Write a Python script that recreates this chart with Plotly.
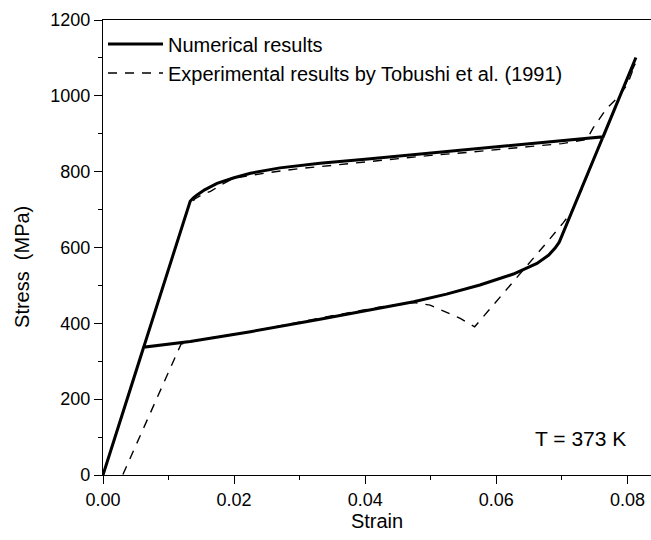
import plotly.graph_objects as go

# Numerical results (solid): loading then unloading
num_strain = [0.0, 0.0133, 0.0138, 0.0143, 0.0155, 0.0174, 0.0200, 0.0225, 0.0270, 0.0331,
              0.0400, 0.0450, 0.0500, 0.0550, 0.0600, 0.0650, 0.0700, 0.0763, 0.0813,
              0.0700, 0.0696, 0.0690, 0.0680, 0.0662, 0.0626, 0.0575, 0.0524, 0.0474,
              0.0423, 0.0331, 0.0225, 0.0133, 0.0062, 0.0]
num_stress = [0, 722, 731, 738, 752, 769, 784, 796, 810, 822,
              833, 841, 849, 857, 865, 873, 881, 892, 1101,
              628, 614, 599, 580, 558, 530, 501, 477, 457,
              440, 411, 378, 352, 337, 0]

# Experimental results by Tobushi et al. (1991) (dashed)
exp_strain = [0.0, 0.0122, 0.0130, 0.0140, 0.0152, 0.0164, 0.0180, 0.0200, 0.0250, 0.0300,
              0.0350, 0.0400, 0.0450, 0.0500, 0.0550, 0.0600, 0.0650, 0.0700, 0.0738,
              0.0748, 0.0768, 0.0785, 0.0800, 0.0812, 0.0790, 0.0760, 0.0730, 0.0715,
              0.0702, 0.0674, 0.0626, 0.0590, 0.0567, 0.0545, 0.0499, 0.0474, 0.0423,
              0.0350, 0.0300, 0.0225, 0.0150, 0.0125, 0.0119, 0.0030]
exp_stress = [0, 665, 705, 728, 740, 748, 765, 783, 797, 808,
              817, 826, 834, 843, 850, 857, 866, 874, 885,
              916, 966, 995, 1030, 1085, 1005, 880, 752, 695,
              665, 607, 510, 435, 391, 413, 448, 455, 443,
              420, 404, 378, 358, 348, 345, 0]

x_ticks = [0.00, 0.02, 0.04, 0.06, 0.08]
y_ticks = [0, 200, 400, 600, 800, 1000, 1200]

FONT = "Liberation Sans, Arial, sans-serif"
FS = 18

fig = go.Figure()
fig.add_trace(go.Scatter(x=num_strain, y=num_stress, mode="lines",
                         name="Numerical results",
                         line=dict(color="black", width=3)))
fig.add_trace(go.Scatter(x=exp_strain, y=exp_stress, mode="lines",
                         name="Experimental results by Tobushi et al. (1991)",
                         line=dict(color="black", width=1.4, dash="9px,8px")))

fig.update_layout(
    width=651, height=540,
    margin=dict(l=103, r=0, t=20, b=65),
    plot_bgcolor="white", paper_bgcolor="white",
    font=dict(family=FONT, size=FS, color="black"),
    showlegend=True,
    legend=dict(x=0.0, y=0.99, xanchor="left", yanchor="top",
                bgcolor="rgba(0,0,0,0)", itemwidth=55,
                font=dict(size=20, family=FONT)),
    xaxis=dict(range=[0, 0.0836], tickvals=x_ticks, ticktext=[f"{v:.2f}" for v in x_ticks],
               showline=True, linecolor="black", linewidth=1.3, mirror=True,
               ticks="outside", ticklen=8, tickwidth=1.3, tickcolor="black",
               minor=dict(dtick=0.01, ticks="outside", ticklen=4, tickwidth=1.3, tickcolor="black"),
               showgrid=False, zeroline=False,
               title=dict(text="Strain", font=dict(size=20), standoff=4)),
    yaxis=dict(range=[0, 1200], tickvals=y_ticks,
               showline=True, linecolor="black", linewidth=1.3,
               ticks="outside", ticklen=8, tickwidth=1.3, tickcolor="black",
               minor=dict(dtick=100, ticks="outside", ticklen=4, tickwidth=1.3, tickcolor="black"),
               showgrid=False, zeroline=False),
    annotations=[
        dict(text="T = 373 K", xref="paper", yref="paper", x=0.872, y=0.081,
             xanchor="center", yanchor="middle",
             showarrow=False, font=dict(size=21, family=FONT)),
        dict(text="Stress  (MPa)", xref="paper", yref="paper", x=-0.148, y=0.457,
             xanchor="center", yanchor="middle", textangle=-90,
             showarrow=False, font=dict(size=20, family=FONT)),
    ],
)

fig.write_html("out.html")
